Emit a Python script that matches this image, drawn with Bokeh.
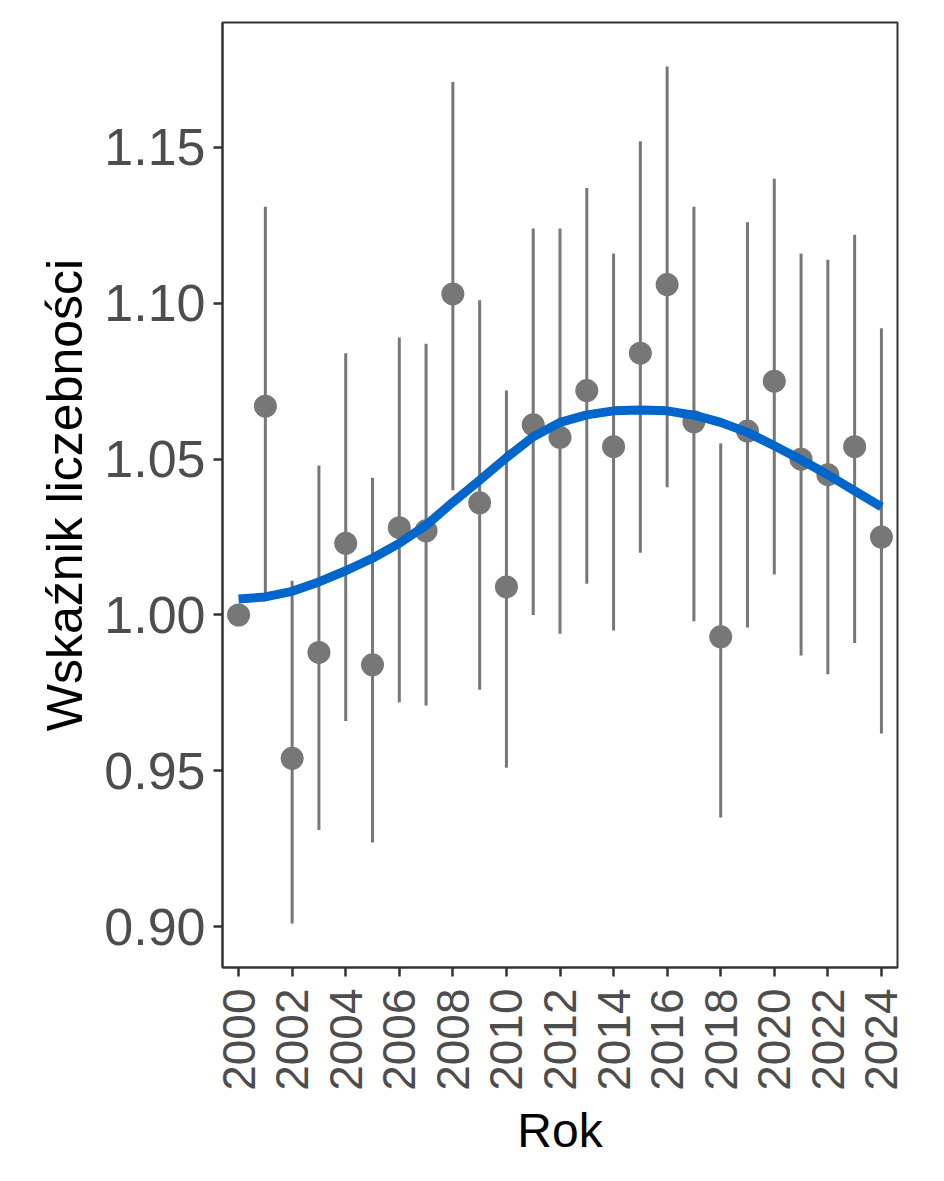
from math import pi
from bokeh.plotting import figure
from bokeh.models import FixedTicker, Range1d, ColumnDataSource
from bokeh.embed import file_html
from bokeh.resources import INLINE

# ---- data ----
years = list(range(2000, 2025))
index_value = [1.000, 1.067, 0.954, 0.988, 1.023, 0.984, 1.028, 1.027, 1.103, 1.036,
               1.009, 1.061, 1.057, 1.072, 1.054, 1.084, 1.106, 1.062, 0.993, 1.059,
               1.075, 1.050, 1.045, 1.054, 1.025]
ci_lower = [1.000, 1.005, 0.901, 0.931, 0.966, 0.927, 0.972, 0.971, 1.040, 0.976,
            0.951, 1.000, 0.994, 1.010, 0.995, 1.020, 1.041, 0.998, 0.935, 0.996,
            1.013, 0.987, 0.981, 0.991, 0.962]
ci_upper = [1.000, 1.131, 1.011, 1.048, 1.084, 1.044, 1.089, 1.087, 1.171, 1.101,
            1.072, 1.124, 1.124, 1.137, 1.116, 1.152, 1.176, 1.131, 1.055, 1.126,
            1.140, 1.116, 1.114, 1.122, 1.092]
trend_value = [1.0051, 1.0058, 1.0076, 1.0106, 1.0142, 1.0182, 1.0230, 1.0288, 1.0362, 1.0432,
               1.0505, 1.0572, 1.0618, 1.0642, 1.0655, 1.0658, 1.0655, 1.0641, 1.0618, 1.0586,
               1.0543, 1.0498, 1.0450, 1.0398, 1.0347]
x_ticks = list(range(2000, 2025, 2))
y_ticks = [0.90, 0.95, 1.00, 1.05, 1.10, 1.15]
x_title = "Rok"
y_title = "Wskaźnik liczebności"

src = ColumnDataSource(dict(year=years, val=index_value, lo=ci_lower, hi=ci_upper))
trend_src = ColumnDataSource(dict(year=years, val=trend_value))

FONT = "Liberation Sans"
GREY = "#777777"

p = figure(width=928, height=1165, output_backend="svg", toolbar_location=None,
           x_range=Range1d(1999.4, 2024.6), y_range=Range1d(0.8869, 1.1901),
           min_border_left=222, min_border_right=31, min_border_top=22,
           min_border_bottom=198)

p.background_fill_color = "white"
p.border_fill_color = "white"
p.outline_line_color = "#333333"
p.outline_line_width = 2
p.xgrid.visible = False
p.ygrid.visible = False

p.segment(x0="year", y0="lo", x1="year", y1="hi", source=src,
          line_color=GREY, line_width=3)
p.scatter(x="year", y="val", source=src, marker="circle", size=23,
          fill_color=GREY, line_color=GREY, line_width=0)
p.line(x="year", y="val", source=trend_src, line_color="#0066CC",
       line_width=9, line_cap="butt", line_join="round")

# axes
p.xaxis.ticker = FixedTicker(ticks=x_ticks)
p.yaxis.ticker = FixedTicker(ticks=y_ticks)
p.yaxis.major_label_overrides = {t: f"{t:.2f}" for t in y_ticks}
p.xaxis.major_label_orientation = pi / 2

for ax in (p.xaxis[0], p.yaxis[0]):
    ax.axis_line_color = "#333333"
    ax.axis_line_width = 2
    ax.major_tick_line_color = "#333333"
    ax.major_tick_line_width = 2.5
    ax.major_tick_out = 9
    ax.major_tick_in = 0
    ax.minor_tick_line_color = None
    ax.major_label_text_font = FONT
    ax.major_label_text_color = "#4D4D4D"
    ax.axis_label_text_font = FONT
    ax.axis_label_text_color = "black"
    ax.axis_label_text_font_style = "normal"

p.xaxis.axis_label_text_font_size = "48px"
p.yaxis.axis_label_text_font_size = "50px"
p.xaxis.major_label_text_font_size = "46px"
p.yaxis.major_label_text_font_size = "52px"
p.xaxis.major_label_standoff = 12
p.yaxis.major_label_standoff = 8
p.xaxis.axis_label = x_title
p.yaxis.axis_label = y_title
p.xaxis.axis_label_standoff = 10
p.yaxis.axis_label_standoff = 8

open("out.html", "w").write(file_html(p, INLINE))
